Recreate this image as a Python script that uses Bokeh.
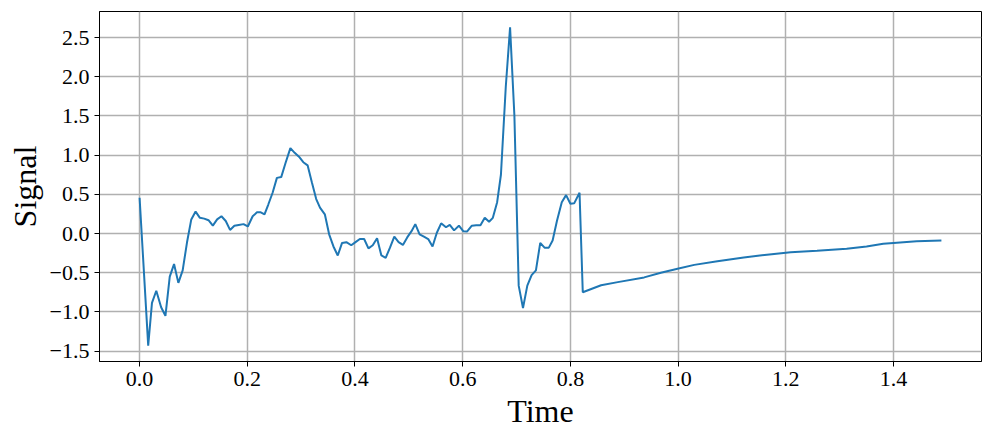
from bokeh.plotting import figure
from bokeh.models import Range1d, FixedTicker, CustomJSTickFormatter, ColumnDataSource
from bokeh.embed import file_html
from bokeh.resources import INLINE

time = [0.000, 0.016, 0.023, 0.031, 0.040, 0.048, 0.056, 0.064, 0.072, 0.080,
        0.088, 0.096, 0.104, 0.112, 0.120, 0.128, 0.136, 0.144, 0.152, 0.160,
        0.168, 0.176, 0.184, 0.193, 0.201, 0.210, 0.218, 0.225, 0.232, 0.239,
        0.247, 0.255, 0.263, 0.271, 0.280, 0.288, 0.296, 0.304, 0.312, 0.320,
        0.328, 0.335, 0.344, 0.352, 0.360, 0.368, 0.376, 0.384, 0.393, 0.401,
        0.409, 0.417, 0.425, 0.433, 0.441, 0.449, 0.457, 0.465, 0.473, 0.481,
        0.489, 0.497, 0.505, 0.512, 0.520, 0.528, 0.536, 0.544, 0.552, 0.560,
        0.569, 0.576, 0.584, 0.593, 0.601, 0.608, 0.617, 0.625, 0.633, 0.641,
        0.649, 0.656, 0.664, 0.671, 0.680, 0.688, 0.696, 0.704, 0.712, 0.720,
        0.728, 0.736, 0.744, 0.752, 0.760, 0.767, 0.775, 0.784, 0.792, 0.800,
        0.807, 0.817, 0.823, 0.857, 0.888, 0.937, 0.968, 0.999, 1.030, 1.073,
        1.122, 1.165, 1.209, 1.258, 1.313, 1.350, 1.381, 1.400, 1.443, 1.489]

signal = [0.457, -1.43, -0.885, -0.73, -0.94, -1.05, -0.55, -0.39, -0.63, -0.47,
          -0.115, 0.18, 0.28, 0.20, 0.19, 0.17, 0.10, 0.18, 0.22, 0.16,
          0.046, 0.10, 0.11, 0.12, 0.09, 0.22, 0.27, 0.27, 0.245, 0.37,
          0.52, 0.71, 0.72, 0.90, 1.09, 1.03, 0.98, 0.91, 0.87, 0.65,
          0.44, 0.33, 0.245, -0.01, -0.165, -0.28, -0.12, -0.11, -0.15, -0.11,
          -0.07, -0.07, -0.19, -0.15, -0.06, -0.28, -0.31, -0.18, -0.04, -0.11,
          -0.145, -0.05, 0.03, 0.12, -0.01, -0.04, -0.07, -0.165, 0.01, 0.13,
          0.08, 0.11, 0.04, 0.10, 0.03, 0.025, 0.10, 0.105, 0.105, 0.20,
          0.15, 0.20, 0.40, 0.75, 1.87, 2.63, 1.51, -0.665, -0.95, -0.665,
          -0.53, -0.47, -0.12, -0.18, -0.18, -0.09, 0.16, 0.40, 0.49, 0.38,
          0.385, 0.52, -0.75, -0.66, -0.62, -0.56, -0.50, -0.45, -0.40, -0.355,
          -0.305, -0.27, -0.24, -0.22, -0.195, -0.165, -0.13, -0.12, -0.10, -0.09]

x_ticks = [0.0, 0.2, 0.4, 0.6, 0.8, 1.0, 1.2, 1.4]
y_ticks = [-1.5, -1.0, -0.5, 0.0, 0.5, 1.0, 1.5, 2.0, 2.5]

FONT = "Liberation Serif"

xmin, xmax = min(time), max(time)
ymin, ymax = min(signal), max(signal)
xpad = (xmax - xmin) * 0.05
ypad = (ymax - ymin) * 0.05

p = figure(width=985, height=433, output_backend="svg", toolbar_location=None,
           x_range=Range1d(xmin - xpad, xmax + xpad),
           y_range=Range1d(ymin - ypad, ymax + ypad),
           min_border_left=99, min_border_right=4, min_border_top=11, min_border_bottom=72)

src = ColumnDataSource(dict(t=time, s=signal))
p.line("t", "s", source=src, line_color="#1f77b4", line_width=2)

fmt = CustomJSTickFormatter(code="return tick.toFixed(1).replace('-', '\u2212');")

p.xaxis.ticker = FixedTicker(ticks=x_ticks)
p.yaxis.ticker = FixedTicker(ticks=y_ticks)
p.xaxis.formatter = fmt
p.yaxis.formatter = fmt

for ax in (p.xaxis, p.yaxis):
    ax.major_label_text_font = FONT
    ax.major_label_text_font_size = "22px"
    ax.major_label_text_color = "black"
    ax.axis_label_text_font = FONT
    ax.axis_label_text_font_size = "32px"
    ax.axis_label_text_font_style = "normal"
    ax.axis_label_text_color = "black"
    ax.minor_tick_line_color = None
    ax.major_tick_out = 5
    ax.major_tick_in = 0
    ax.major_tick_line_color = "black"
    ax.axis_line_color = "black"
    ax.axis_line_width = 1

p.xaxis.axis_label = "Time"
p.yaxis.axis_label = "Signal"
p.xaxis.axis_label_standoff = 4
p.yaxis.axis_label_standoff = 4
p.xaxis.major_label_standoff = 5
p.yaxis.major_label_standoff = 5

p.grid.grid_line_color = "#b0b0b0"
p.grid.grid_line_width = 1.5
p.outline_line_color = "black"
p.outline_line_width = 1
p.outline_line_alpha = 1.0
p.background_fill_color = "white"
p.border_fill_color = "white"

open("out.html", "w").write(file_html(p, INLINE))
